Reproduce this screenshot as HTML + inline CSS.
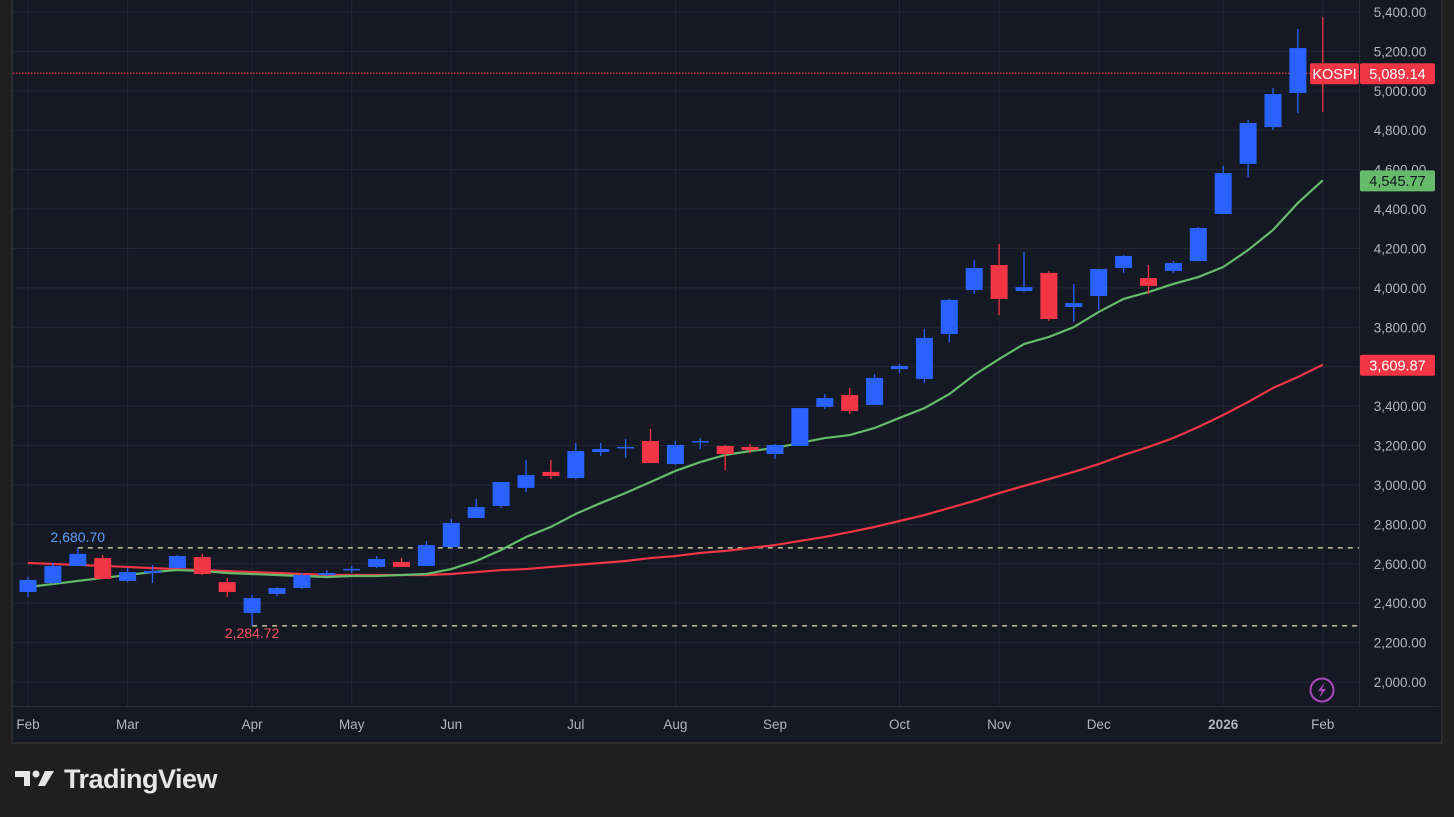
<!DOCTYPE html>
<html><head><meta charset="utf-8"><style>
body{margin:0;background:#1f1f1f;width:1454px;height:817px;overflow:hidden;font-family:"Liberation Sans",sans-serif}
#frame{position:absolute;left:11px;top:-2px;width:1428px;height:742px;border:2px solid #2e2e2e;background:#151924}
svg{position:absolute;left:0;top:0}
</style></head><body>
<div id="frame"></div>
<svg id="c" width="1454" height="817"></svg>
<div style="position:absolute;left:15px;top:762px;height:34px;display:flex;align-items:center;color:#e6e6e6;font-weight:bold;font-size:27px;letter-spacing:-0.5px">
<svg width="40" height="24" style="position:relative;margin-right:9px"><path d="M0 4h15v15h-6v-9h-9z" fill="#e6e6e6"/><circle cx="21" cy="7" r="3.5" fill="#e6e6e6"/><path d="M30 4h9l-9 15h-7z" fill="#e6e6e6"/></svg>TradingView</div>
<script>
const opens=[2457,2502,2589,2629,2513,2553,2578,2634,2507,2350,2447,2477,2543,2571,2584,2609,2589,2685,2832,2893,2985,3066,3035,3167,3190,3223,3106,3218,3198,3193,3157,3198,3396,3456,3406,3588,3538,3766,3989,4116,3984,4076,3903,3959,4101,4050,4086,4136,4375,4629,4816,4989,5110];
const highs=[2533,2604,2680.70,2644,2579,2594,2644,2650,2528,2441,2482,2553,2568,2589,2639,2629,2716,2827,2929,3015,3127,3127,3213,3213,3233,3284,3223,3238,3203,3208,3208,3390,3461,3492,3563,3614,3791,3944,4141,4223,4182,4086,4020,4096,4167,4116,4136,4309,4619,4852,5014,5314,5373];
const lows=[2431,2497,2589,2523,2507,2502,2578,2543,2431,2284.72,2436,2472,2538,2553,2578,2584,2589,2680,2832,2883,2964,3030,3030,3147,3137,3111,3101,3182,3076,3162,3132,3198,3385,3360,3406,3568,3517,3725,3969,3862,3979,3832,3827,3888,4076,3969,4076,4136,4375,4563,4801,4887,4892];
const closes=[2518,2589,2650,2523,2558,2563,2639,2548,2457,2426,2477,2543,2553,2574,2624,2584,2695,2807,2888,3015,3050,3045,3172,3182,3193,3111,3203,3223,3157,3177,3203,3390,3441,3375,3543,3604,3746,3939,4101,3944,4004,3842,3923,4096,4162,4010,4126,4304,4583,4837,4984,5217,5089.14];
const maFast=[2482,2497,2513,2528,2543,2558,2568,2563,2553,2548,2543,2538,2533,2538,2538,2543,2548,2573,2614,2670,2736,2787,2853,2908,2959,3015,3071,3116,3152,3172,3187,3213,3238,3253,3289,3340,3390,3461,3558,3639,3715,3751,3801,3878,3944,3979,4020,4055,4106,4192,4294,4431,4545.77];
const maSlow=[2604,2599,2594,2589,2584,2578,2573,2568,2563,2558,2553,2548,2543,2543,2543,2543,2543,2548,2558,2568,2573,2584,2594,2604,2614,2629,2639,2655,2665,2680,2695,2716,2736,2761,2787,2817,2847,2883,2919,2959,2995,3030,3066,3106,3152,3193,3238,3294,3355,3421,3492,3548,3609.87];
const yTicks=[2000,2200,2400,2600,2800,3000,3200,3400,3600,3800,4000,4200,4400,4600,4800,5000,5200,5400];
const monthLabels=["Feb","Mar","Apr","May","Jun","Jul","Aug","Sep","Oct","Nov","Dec","2026","Feb"];
const monthIdx=[0,4,9,13,17,22,26,30,35,39,43,48,52];
const extremeIdx=[2,9];
const svg=document.getElementById('c');const NS='http://www.w3.org/2000/svg';
const X=i=>28+i*24.9;
const Y=v=>682-(v-2000)*0.19706;
function el(t,a,p){const e=document.createElementNS(NS,t);for(const k in a)e.setAttribute(k,a[k]);(p||svg).appendChild(e);return e;}
const fmt=v=>v.toLocaleString('en-US',{minimumFractionDigits:2,maximumFractionDigits:2});
yTicks.forEach(v=>{const l=el('line',{x1:13,x2:1359,y1:Y(v),y2:Y(v),stroke:'#232733','stroke-width':1});


const t=el('text',{x:1400,y:Y(v)+5,'text-anchor':'middle',fill:'#b2b5be','font-size':13.5});t.textContent=fmt(v);

});
monthIdx.forEach((ix,k)=>{const l=el('line',{x1:X(ix),x2:X(ix),y1:0,y2:706,stroke:'#232733','stroke-width':1});


const t=el('text',{x:X(ix),y:729,'text-anchor':'middle',fill:'#b2b5be','font-size':13.5,'font-weight':monthLabels[k]==='2026'?'bold':'normal'});t.textContent=monthLabels[k];

});
el('line',{x1:13,x2:1439,y1:706.5,y2:706.5,stroke:'#2a2e39'});
el('line',{x1:1359.5,x2:1359.5,y1:0,y2:706,stroke:'#2a2e39'});
const hiV=highs[extremeIdx[0]],loV=lows[extremeIdx[1]];
[[hiV,extremeIdx[0],'#5b9cf6',true],[loV,extremeIdx[1],'#f7525f',false]].forEach(([v,ix,c,top])=>{
const l=el('line',{x1:X(ix),x2:1359,y1:Y(v),y2:Y(v),stroke:'#e8e4b0','stroke-dasharray':'5 5','stroke-width':1.2});


const t=el('text',{x:X(ix),y:top?Y(v)-6:Y(v)+12,'text-anchor':'middle',fill:c,'font-size':14});t.textContent=fmt(v);

});
const lp=el('line',{x1:13,x2:1310,y1:Y(closes[52]),y2:Y(closes[52]),stroke:'#f23645','stroke-dasharray':'1.5 1.5','stroke-width':1.3});


[[maSlow,'#f23645','ma-slow-line'],[maFast,'#66bb6a','ma-fast-line']].forEach(([a,c,n])=>{
const p=el('polyline',{points:a.map((v,i)=>X(i)+','+Y(v)).join(' '),fill:'none',stroke:c,'stroke-width':2.2});

});
opens.forEach((o,i)=>{const c=closes[i],up=c>=o,col=up?'#2962ff':'#f23645';
const g=el('g',{});


el('line',{x1:X(i),x2:X(i),y1:Y(highs[i]),y2:Y(lows[i]),stroke:col,'stroke-width':1.3},g);
const t=Y(Math.max(o,c)),b=Y(Math.min(o,c));
el('rect',{x:X(i)-8.5,y:t,width:17,height:Math.max(b-t,1.5),fill:col},g);});
function tag(x,y,w,txt,bg,fg,name){const g=el('g',{});


el('rect',{x:x,y:y-10,width:w,height:21,rx:2,fill:bg},g);
const t=el('text',{x:x+w/2,y:y+5.5,'text-anchor':'middle',fill:fg,'font-size':14.5},g);t.textContent=txt;}
tag(1310,Y(closes[52]),49,'KOSPI','#f23645','#fff','symbol-tag');
tag(1360,Y(closes[52]),75,fmt(closes[52]),'#f23645','#fff','last-price-tag');
tag(1360,Y(maFast[52]),75,fmt(maFast[52]),'#66bb6a','#131722','ma-fast-tag');
tag(1360,Y(maSlow[52]),75,fmt(maSlow[52]),'#f23645','#fff','ma-slow-tag');
const ic=el('g',{});


el('circle',{cx:1322,cy:690,r:11.5,fill:'#151924',stroke:'#ab47bc','stroke-width':2},ic);
el('path',{d:'M1325 682l-7 9h4l-3 7 7-9h-4z',fill:'#ab47bc'},ic);
</script>
</body></html>
